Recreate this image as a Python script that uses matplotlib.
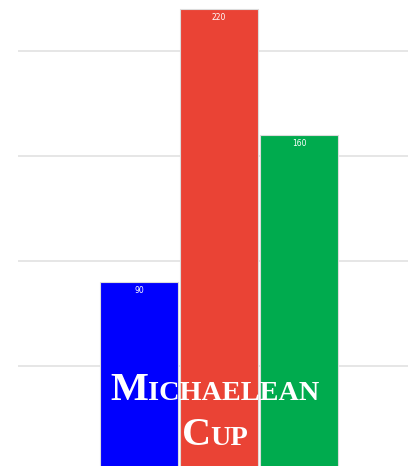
import matplotlib
matplotlib.use("Agg")
import matplotlib.pyplot as plt

categories = ["A", "B", "C"]
values = [90, 220, 160]
colors = ["#0000fe", "#ea4335", "#00ab4e"]
yticks = [50, 100, 150, 200]
title_lines = [[("M", True), ("ichaelean", False)], [("C", True), ("up", False)]]

W, H = 408, 466
fig = plt.figure(figsize=(W / 100, H / 100), dpi=100)
ax = fig.add_axes([18 / W, 0, 1 - 18 / W, 1])
x = list(range(len(categories)))
ax.bar(x, values, width=0.975, color=colors, edgecolor="#dcdcdc", linewidth=0.8, zorder=3)
ax.set_xlim(-1.51, 3.36)
ax.set_ylim(2.4, 224.3)
for t in yticks:
    ax.axhline(t, color="#e6e6e6", linewidth=1.4, zorder=1)
for xi, v in zip(x, values):
    ax.annotate(str(v), (xi, v), xytext=(0, -2.5), textcoords="offset points",
                ha="center", va="top", color="white", fontsize=5.5, zorder=4)
ax.axis("off")

# Small-caps title
big, small = 29, 20.3
fig.canvas.draw()
r = fig.canvas.get_renderer()
baselines = [400, 445]
centers = [215, 215]
for line, base, cx in zip(title_lines, baselines, centers):
    pieces = []
    for s, isbig in line:
        txt = s if isbig else s.upper()
        t = fig.text(0, 0, txt, fontsize=big if isbig else small, family="Liberation Serif",
                     weight="bold", color="white", va="baseline", ha="left")
        pieces.append(t)
    widths = [p.get_window_extent(r).width for p in pieces]
    total = sum(widths)
    xpos = cx - total / 2
    for p, w in zip(pieces, widths):
        p.set_position((xpos / W, 1 - base / H))
        xpos += w

fig.savefig("out.png", dpi=100)
